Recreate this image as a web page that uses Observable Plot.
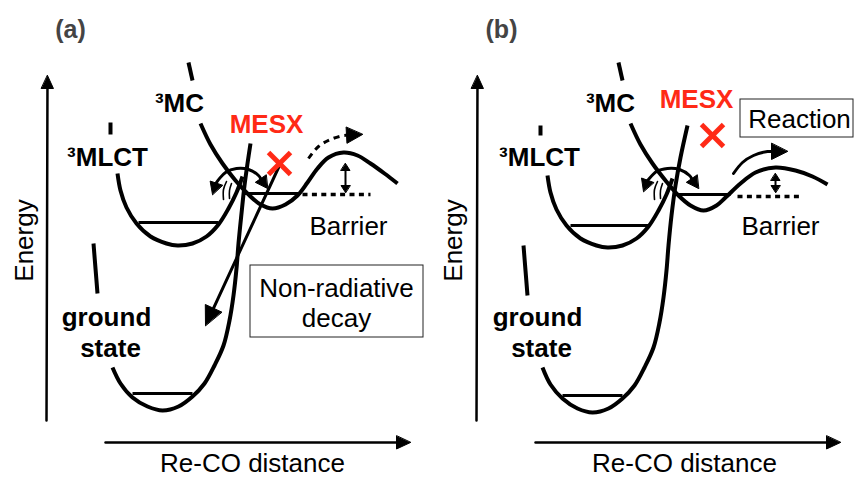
<!DOCTYPE html>
<html><head><meta charset="utf-8">
<script src="https://cdn.jsdelivr.net/npm/d3@7"></script>
<script src="https://cdn.jsdelivr.net/npm/@observablehq/plot@0.6"></script>
<style>
body{margin:0;background:#fff;}
#wrap{display:flex;width:855px;height:477px;overflow:hidden;}
</style></head><body><div id="wrap"></div>
<script>
const FONT = '"Liberation Sans", Arial, Helvetica, sans-serif';
const RED = "#ff2a16";

// ---- texts ----
const panelTags = ["(a)", "(b)"];
const stateNames = ["³MLCT", "³MC", "ground", "state"];
const xTitle = "Re-CO distance";
const yTitle = "Energy";
const mesxName = "MESX";
const barrierName = "Barrier";
const boxTextsA = ["Non-radiative", "decay"];
const boxTextsB = ["Reaction"];

// ---- panel widths ----
const panelWidths = [430, 425];

// ---- potential curves, panel (a): [Re-CO distance, depth from top] ----
const gsTopA = [[93,243],[95,268],[97,293]];
const gsA = [[112,367],[120,383],[132,397],[147,406],[162,410],[178,406],[192,396],[204,383],[214,365],[223,345],[229,320],[233,295],[236,268],[238,243],[241,213],[244,185],[247,163],[250,143]];
const mlctTopA = [[110,122],[110,134]];
const mlctA = [[117,173],[120,190],[126,207],[136,223],[150,236],[166,243],[177,245],[192,243],[206,236],[218,224],[228,208],[236,192],[242,176]];
const mcTopA = [[188,62],[192,80]];
const mcA = [[200,123],[210,144],[222,163],[235,180],[248,194],[260,204],[272,208],[285,204],[297,195],[307,182],[317,168],[328,157],[343,152],[357,155],[370,163],[384,173],[397,183]];
// levels [x1,y,x2]
const levelsA = [[138,222,218],[132,393,192],[243,193,300]];
const dottedA = [[302,194,370]];
const barrierArrowA = [345,163,192];
const circArrowA = [[212,194],[216,182],[225,172],[236,168],[248,169],[258,175],[267,188]];
const motionA = [[[226,181],[223,189],[223,199]],[[231,183],[229,190],[229,198]]];
const escapeArrowA = [[308,158],[318,146],[330,139],[343,135],[362,134]];
const decayArrowA = [[279,165],[205,325]];
const mesxPointA = [279,163];
const boxA = [250,265,423,337];

// ---- panel (b) ----
const gsTopB = [[93,245],[95,270],[97,295]];
const gsB = [[112,367],[120,384],[132,398],[147,408],[162,412],[178,408],[192,398],[204,385],[214,367],[223,347],[229,322],[233,297],[236,270],[238,245],[241,215],[245,185],[250,157],[257,125]];
const mlctTopB = [[110,125],[110,135]];
const mlctB = [[117,175],[120,192],[126,209],[136,225],[150,238],[166,245],[177,247],[192,245],[206,238],[218,226],[228,210],[236,194],[242,178]];
const mcTopB = [[188,62],[192,80]];
const mcB = [[200,123],[210,144],[222,163],[235,180],[248,195],[260,205],[273,210],[286,205],[295,197],[310,183],[325,172],[345,167],[365,170],[382,176],[397,184]];
const levelsB = [[140,225,218],[132,395,192],[245,194,300]];
const dottedB = [[307,196,370]];
const barrierArrowB = [345,173,192];
const circArrowB = [[213,191],[217,180],[226,171],[237,168],[249,169],[259,175],[268,188]];
const motionB = [[[227,181],[224,189],[224,199]],[[232,183],[230,190],[230,198]]];
const reactArrowB = [[303,173],[312,162],[323,155],[337,151],[357,151]];
const mesxPointB = [282,135];
const boxB = [310,99,423,137];

// ---- axes (shared) ----
const yAxisLine = [[46,420],[47,75]];
const xAxisLine = [[105,442],[410,442]];

// ---- label anchor positions [x, y] ----
const tagPos = [[70,29],[71,29]];
const mlctPos = [[107,157],[109,157]];
const mcPos = [[179,103],[180,103]];
const groundPos = [[106,317],[107,317]];
const statePos = [[110,348],[111,348]];
const mesxPos = [[266,124],[266,99]];
const barrierPos = [[348,226],[350,226]];
const yTitlePos = [[24,240],[23,240]];
const xTitlePos = [[252,463],[254,463]];
const boxTextPosA = [[336,288],[336,318]];
const boxTextPosB = [[369,119]];

const X = d => d[0], Y = d => d[1];

function headTri(tip, from, L, W) {
  const dx = tip[0]-from[0], dy = tip[1]-from[1], n = Math.hypot(dx, dy);
  const ux = dx/n, uy = dy/n;
  const bx = tip[0]-ux*L, by = tip[1]-uy*L;
  return {tri: [[tip[0],tip[1]],[bx-uy*W, by+ux*W],[bx+uy*W, by-ux*W]], base: [bx, by]};
}

function arrowMarks(pts, {start=false, end=true, L=12, W=6, sw=3, dash=null, curve="catmull-rom"} = {}) {
  const p = pts.map(d => d.slice());
  const marks = [];
  if (end) {
    const h = headTri(pts[pts.length-1], pts[pts.length-2], L, W);
    p[p.length-1] = h.base;
    marks.push(Plot.line(h.tri, {x: X, y: Y, fill: "#000", stroke: "#000", strokeWidth: 1, curve: "linear-closed"}));
  }
  if (start) {
    const h = headTri(pts[0], pts[1], L, W);
    p[0] = h.base;
    marks.push(Plot.line(h.tri, {x: X, y: Y, fill: "#000", stroke: "#000", strokeWidth: 1, curve: "linear-closed"}));
  }
  marks.unshift(Plot.line(p, {x: X, y: Y, stroke: "#000", strokeWidth: sw, curve, strokeLinecap: dash ? "butt" : "round", strokeDasharray: dash}));
  return marks;
}

function curveMark(pts, sw = 4) {
  return Plot.line(pts, {x: X, y: Y, stroke: "#000", strokeWidth: sw, curve: "catmull-rom", strokeLinecap: "butt"});
}

function txt(str, pos, opts = {}) {
  return Plot.text([str], {x: () => pos[0], y: () => pos[1], text: d => d, fontSize: 26, fill: "#000", fontFamily: FONT, textAnchor: "middle", lineAnchor: "middle", ...opts});
}

function panel(i, cfg) {
  const w = panelWidths[i];
  const marks = [];
  marks.push(...arrowMarks(yAxisLine, {L: 13, W: 6, sw: 2.5, curve: "linear"}));
  marks.push(...arrowMarks(xAxisLine, {L: 14, W: 6.5, sw: 2.5, curve: "linear"}));
  marks.push(Plot.rect([cfg.box], {x1: d => d[0], y1: d => d[1], x2: d => d[2], y2: d => d[3], fill: "#fff", stroke: "#222", strokeWidth: 1}));
  for (const c of cfg.curves) marks.push(curveMark(c));
  marks.push(Plot.link(cfg.levels, {x1: d => d[0], y1: d => d[1], x2: d => d[2], y2: d => d[1], stroke: "#000", strokeWidth: 3}));
  marks.push(Plot.link(cfg.dotted, {x1: d => d[0], y1: d => d[1], x2: d => d[2], y2: d => d[1], stroke: "#000", strokeWidth: 3.5, strokeDasharray: "5,4.4"}));
  const b = cfg.barrier;
  marks.push(...arrowMarks([[b[0], b[1]], [b[0], b[2]]], {start: true, end: true, L: 7, W: 4.5, sw: 2, curve: "linear"}));
  marks.push(...arrowMarks(cfg.circ, {start: true, end: true, L: 12, W: 6.5, sw: 3}));
  for (const m of cfg.motion) marks.push(Plot.line(m, {x: X, y: Y, stroke: "#000", strokeWidth: 1.6, curve: "catmull-rom"}));
  for (const a of cfg.arrows) marks.push(...arrowMarks(a.pts, a.opts));
  const c = cfg.mesx, s = 11;
  marks.push(Plot.link([[c[0]-s, c[1]-s, c[0]+s, c[1]+s], [c[0]-s, c[1]+s, c[0]+s, c[1]-s]], {x1: d => d[0], y1: d => d[1], x2: d => d[2], y2: d => d[3], stroke: RED, strokeWidth: 5}));
  marks.push(txt(panelTags[i], tagPos[i], {fontWeight: "bold", fill: "#444", fontSize: 25}));
  marks.push(txt(stateNames[0], mlctPos[i], {fontWeight: "bold"}));
  marks.push(txt(stateNames[1], mcPos[i], {fontWeight: "bold"}));
  marks.push(txt(stateNames[2], groundPos[i], {fontWeight: "bold"}));
  marks.push(txt(stateNames[3], statePos[i], {fontWeight: "bold"}));
  marks.push(txt(mesxName, mesxPos[i], {fontWeight: "bold", fill: RED}));
  marks.push(txt(barrierName, barrierPos[i]));
  marks.push(txt(yTitle, yTitlePos[i], {rotate: -90}));
  marks.push(txt(xTitle, xTitlePos[i]));
  cfg.boxTexts.forEach((t, k) => marks.push(txt(t, cfg.boxTextPos[k])));

  return Plot.plot({
    width: w, height: 477, margin: 0,
    x: {domain: [0, w], range: [0, w], axis: null},
    y: {domain: [0, 477], range: [0, 477], axis: null},
    style: {fontFamily: FONT, background: "#fff", overflow: "visible"},
    marks
  });
}

const wrap = document.getElementById("wrap");
wrap.appendChild(panel(0, {
  curves: [gsTopA, gsA, mlctTopA, mlctA, mcTopA, mcA],
  levels: levelsA, dotted: dottedA, barrier: barrierArrowA,
  circ: circArrowA, motion: motionA,
  arrows: [
    {pts: escapeArrowA, opts: {L: 16, W: 8, sw: 3, dash: "6,5"}},
    {pts: decayArrowA, opts: {L: 19, W: 9, sw: 3, curve: "linear"}}
  ],
  mesx: mesxPointA, box: boxA, boxTexts: boxTextsA, boxTextPos: boxTextPosA
}));
wrap.appendChild(panel(1, {
  curves: [gsTopB, gsB, mlctTopB, mlctB, mcTopB, mcB],
  levels: levelsB, dotted: dottedB, barrier: barrierArrowB,
  circ: circArrowB, motion: motionB,
  arrows: [
    {pts: reactArrowB, opts: {L: 16, W: 8, sw: 3}}
  ],
  mesx: mesxPointB, box: boxB, boxTexts: boxTextsB, boxTextPos: boxTextPosB
}));
</script></body></html>
